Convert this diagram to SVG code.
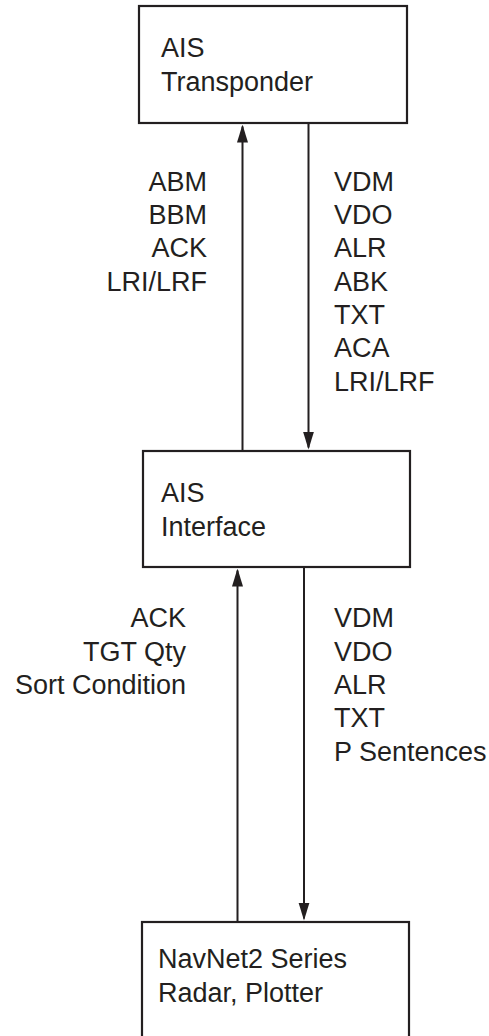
<svg xmlns="http://www.w3.org/2000/svg" width="489" height="1036" viewBox="0 0 489 1036">
<style>
.box{fill:#fff;stroke:#231f20;stroke-width:2.2}
.ln{stroke:#231f20;stroke-width:2;fill:none}
text{font-family:"Liberation Sans",Arial,sans-serif;font-size:27px;fill:#231f20}
.r{text-anchor:end}
</style>
<defs>
<marker id="ah" markerUnits="userSpaceOnUse" markerWidth="18" markerHeight="12" viewBox="0 0 18 12" refX="16" refY="6" orient="auto">
<path d="M0,0.5 L18,6 L0,11.5 Z" fill="#231f20"/>
</marker>
</defs>
<rect width="489" height="1036" fill="#fff"/>
<g id="connectors">
<line class="ln" x1="242.5" y1="451" x2="242.5" y2="126.5" marker-end="url(#ah)"/>
<line class="ln" x1="308.5" y1="123" x2="308.5" y2="447.5" marker-end="url(#ah)"/>
<line class="ln" x1="237.5" y1="922" x2="237.5" y2="570.5" marker-end="url(#ah)"/>
<line class="ln" x1="304" y1="567" x2="304" y2="918.5" marker-end="url(#ah)"/>
<g id="labels-upper-left">
<text class="r" x="207" y="190.7">ABM</text>
<text class="r" x="207" y="224">BBM</text>
<text class="r" x="207" y="257.3">ACK</text>
<text class="r" x="207" y="290.7">LRI/LRF</text>
</g>
<g id="labels-upper-right">
<text x="334" y="190.7">VDM</text>
<text x="334" y="224">VDO</text>
<text x="334" y="257.3">ALR</text>
<text x="334" y="290.7">ABK</text>
<text x="334" y="324">TXT</text>
<text x="334" y="357.3">ACA</text>
<text x="334" y="390.7">LRI/LRF</text>
</g>
<g id="labels-lower-left">
<text class="r" x="186" y="627.3">ACK</text>
<text class="r" x="186" y="660.7">TGT Qty</text>
<text class="r" x="186" y="694">Sort Condition</text>
</g>
<g id="labels-lower-right">
<text x="334" y="627.3">VDM</text>
<text x="334" y="660.7">VDO</text>
<text x="334" y="694">ALR</text>
<text x="334" y="727.3">TXT</text>
<text x="334" y="760.7">P Sentences</text>
</g>
</g>
<g id="ais-transponder">
<rect class="box" x="139" y="6" width="268" height="117"/>
<text x="161" y="56.7">AIS</text>
<text x="161" y="90.7">Transponder</text>
</g>
<g id="ais-interface">
<rect class="box" x="143" y="451" width="267" height="116"/>
<text x="161" y="502.3">AIS</text>
<text x="161" y="536">Interface</text>
</g>
<g id="navnet2">
<rect class="box" x="142" y="922" width="267" height="130"/>
<text x="158" y="968.3">NavNet2 Series</text>
<text x="158" y="1001.7">Radar, Plotter</text>
</g>
</svg>
